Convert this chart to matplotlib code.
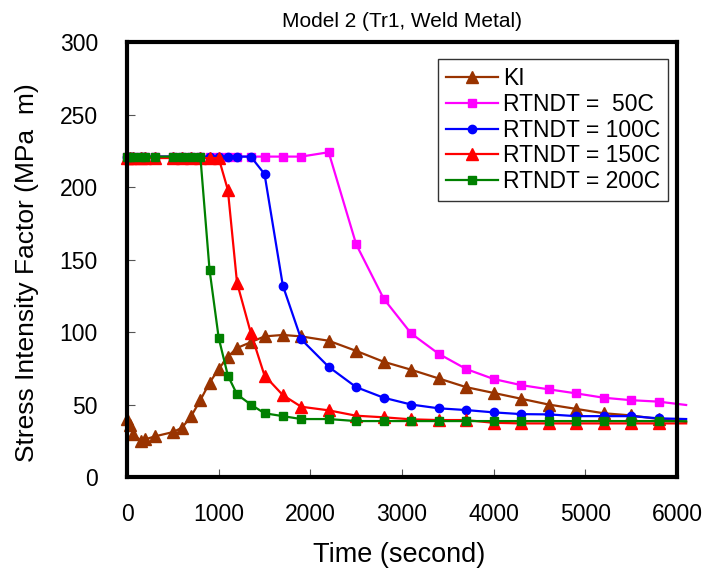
import matplotlib
matplotlib.use("Agg")
import matplotlib.pyplot as plt

plt.rcParams['font.family'] = ['Liberation Sans', 'DejaVu Sans']

# time grid (s); last point lies just past the axis end, drawn without marker
time = [0, 30, 60, 150, 200, 300, 500, 600, 700, 800, 900, 1000, 1100, 1200, 1350,
        1500, 1700, 1900, 2200, 2500, 2800, 3100, 3400, 3700, 4000, 4300, 4600,
        4900, 5200, 5500, 5800, 6100]

ki = [40, 36, 30, 25, 26, 28, 31, 34, 42, 53, 65, 74.5, 83, 89, 93,
      97, 98, 97, 94, 87, 79.5, 74, 68, 62, 58, 54, 50, 47, 44, 42.5, 40, 38]

rt50 = [221] * 15 + [221, 221, 221, 224, 160.5, 123, 99, 85, 74.5, 67.6, 63.4,
                     60.5, 57.7, 54.7, 53, 52, 49.7]

rt100 = [221] * 15 + [209, 132, 95, 76, 62, 54.7, 50, 47.4, 46.2, 44.6, 43.4,
                      43.2, 42, 42, 42, 40.5, 40]

rt150 = [220] * 12 + [198, 134, 99.5] + [70, 56.5, 48.5, 46, 42.3, 41.2, 39.8,
                                          39.3, 39.3, 37.4, 37, 37, 37, 37, 37, 37, 37]

rt200 = [221] * 10 + [143, 96, 70, 57, 50] + [44, 42, 40, 40, 38.6, 38.6, 38.6,
                                               38.6, 38.6, 38.6, 38.6, 38.6, 38.6,
                                               38.6, 38.6, 38.6, 38.5]

series = [
    (ki, 'KI', '#993300', '^', 8),
    (rt50, 'RTNDT =  50C', '#FF00FF', 's', 5.5),
    (rt100, 'RTNDT = 100C', '#0000FF', 'o', 6),
    (rt150, 'RTNDT = 150C', '#FF0000', '^', 8),
    (rt200, 'RTNDT = 200C', '#008000', 's', 5.5),
]

fig = plt.figure(figsize=(7.03, 5.72), dpi=100)
ax = fig.add_axes([0.1807, 0.166, 0.7823, 0.7605])

n = len(time)
for vals, label, color, marker, ms in series:
    ax.plot(time, vals, color=color, lw=1.6, marker=marker, ms=ms,
            mec=color, mfc=color, markevery=slice(0, n - 1),
            label=label, clip_on=False)

ax.set_xlim(0, 6000)
ax.set_ylim(0, 300)
ax.set_xticks(range(0, 6001, 1000))
ax.set_yticks(range(0, 301, 50))
ax.tick_params(direction='in', length=6, width=0.8, color='#555555',
               labelsize=16.5)
ax.tick_params(axis='x', pad=19)
ax.tick_params(axis='y', pad=21)

for sp in ax.spines.values():
    sp.set_linewidth(3)
    sp.set_zorder(5)

ax.set_xlabel('Time (second)', fontsize=19.5)
ax.xaxis.set_label_coords(0.495, -0.15)
ax.set_ylabel('Stress Intensity Factor (MPa  m)', fontsize=19)
ax.yaxis.set_label_coords(-0.16, 0.471)
ax.set_title('Model 2 (Tr1, Weld Metal)', fontsize=15, pad=11)

leg = ax.legend(loc='upper right', bbox_to_anchor=(0.984, 0.961),
                borderaxespad=0, fontsize=16.5, frameon=True, fancybox=False,
                handlelength=2.3, handletextpad=0.2, labelspacing=0.12,
                borderpad=0.35)
leg.get_frame().set_edgecolor('black')
leg.get_frame().set_linewidth(1.0)

fig.savefig('out.png', dpi=100)
